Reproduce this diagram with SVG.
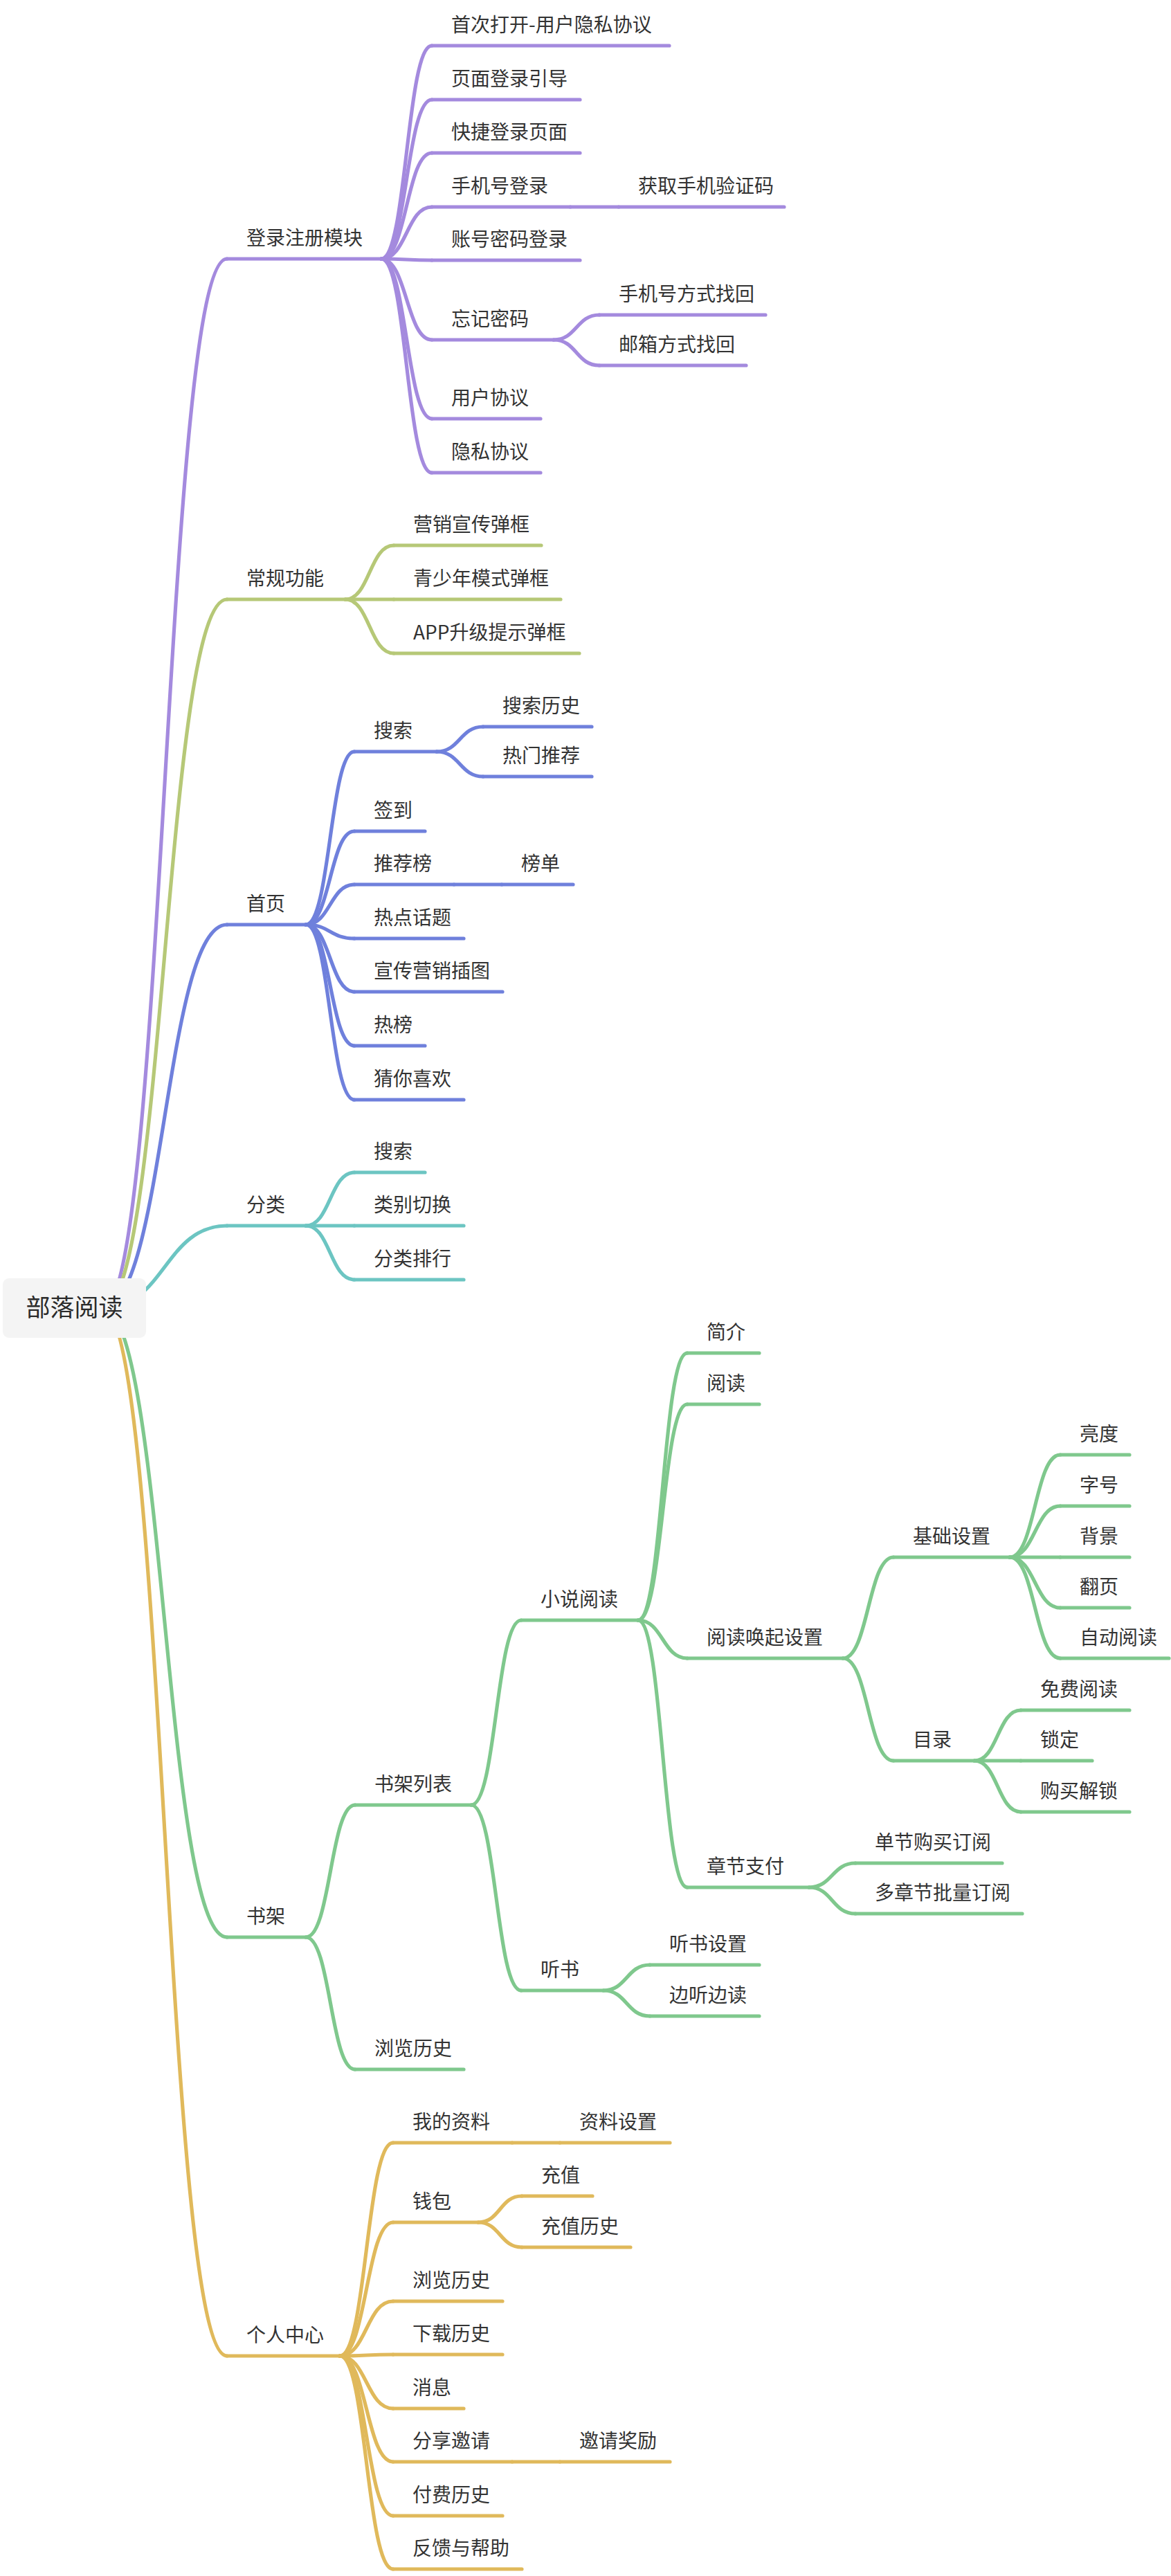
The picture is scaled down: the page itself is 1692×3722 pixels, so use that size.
<svg xmlns="http://www.w3.org/2000/svg" width="1692" height="3722" viewBox="0 0 1692 3722">
<style>
.t{font-family:"Noto Sans CJK SC","Noto Sans",sans-serif;font-size:28px;fill:#333333}
.rt{font-family:"Noto Sans CJK SC","Noto Sans",sans-serif;font-size:35px;fill:#2b2b2b;text-anchor:middle}
.l{fill:none;stroke-width:5.2;stroke-linecap:round;stroke-linejoin:round}
.p{stroke:#a48ade}.y{stroke:#b6c877}.b{stroke:#6f80dc}.c{stroke:#6cc5c2}.g{stroke:#7fc88d}.o{stroke:#e0b95b}
</style>
<rect width="1692" height="3722" fill="#ffffff"/>
<g id="connectors">
<path class="l p" d="M148,1890 C238,1890 238,374 328,374"/>
<path class="l y" d="M148,1890 C238,1890 238,866 328,866"/>
<path class="l b" d="M148,1890 C238,1890 238,1336 328,1336"/>
<path class="l c" d="M148,1890 C238,1890 238,1771 328,1771"/>
<path class="l g" d="M148,1890 C238,1890 238,2799 328,2799"/>
<path class="l o" d="M148,1890 C238,1890 238,3404 328,3404"/>
<path class="l p" d="M551,374 C587.5,374 587.5,66 624,66"/>
<path class="l p" d="M551,374 C587.5,374 587.5,144 624,144"/>
<path class="l p" d="M551,374 C587.5,374 587.5,221 624,221"/>
<path class="l p" d="M551,374 C587.5,374 587.5,299 624,299"/>
<path class="l p" d="M551,374 C587.5,374 587.5,376 624,376"/>
<path class="l p" d="M551,374 C587.5,374 587.5,491 624,491"/>
<path class="l p" d="M551,374 C587.5,374 587.5,605 624,605"/>
<path class="l p" d="M551,374 C587.5,374 587.5,683 624,683"/>
<path class="l p" d="M824,299 L894,299"/>
<path class="l p" d="M800,491 C833,491 833,455 866,455"/>
<path class="l p" d="M800,491 C833,491 833,528 866,528"/>
<path class="l y" d="M499,866 C534,866 534,788 569,788"/>
<path class="l y" d="M499,866 L569,866"/>
<path class="l y" d="M499,866 C534,866 534,944 569,944"/>
<path class="l b" d="M442,1336 C477,1336 477,1086 512,1086"/>
<path class="l b" d="M442,1336 C477,1336 477,1201 512,1201"/>
<path class="l b" d="M442,1336 C477,1336 477,1278 512,1278"/>
<path class="l b" d="M442,1336 C477,1336 477,1356 512,1356"/>
<path class="l b" d="M442,1336 C477,1336 477,1433 512,1433"/>
<path class="l b" d="M442,1336 C477,1336 477,1511 512,1511"/>
<path class="l b" d="M442,1336 C477,1336 477,1589 512,1589"/>
<path class="l b" d="M631,1086 C664.5,1086 664.5,1050 698,1050"/>
<path class="l b" d="M631,1086 C664.5,1086 664.5,1122 698,1122"/>
<path class="l b" d="M656,1278 L725,1278"/>
<path class="l c" d="M442,1771 C477,1771 477,1694 512,1694"/>
<path class="l c" d="M442,1771 L512,1771"/>
<path class="l c" d="M442,1771 C477,1771 477,1849 512,1849"/>
<path class="l g" d="M442,2799 C477.5,2799 477.5,2608 513,2608"/>
<path class="l g" d="M442,2799 C477.5,2799 477.5,2990 513,2990"/>
<path class="l g" d="M681,2608 C717,2608 717,2341 753,2341"/>
<path class="l g" d="M681,2608 C717,2608 717,2876 753,2876"/>
<path class="l g" d="M922,2341 C957.5,2341 957.5,1955 993,1955"/>
<path class="l g" d="M922,2341 C957.5,2341 957.5,2029 993,2029"/>
<path class="l g" d="M922,2341 C957.5,2341 957.5,2396 993,2396"/>
<path class="l g" d="M922,2341 C957.5,2341 957.5,2727 993,2727"/>
<path class="l g" d="M1218,2396 C1254.5,2396 1254.5,2250 1291,2250"/>
<path class="l g" d="M1218,2396 C1254.5,2396 1254.5,2544 1291,2544"/>
<path class="l g" d="M1459,2250 C1495.5,2250 1495.5,2102 1532,2102"/>
<path class="l g" d="M1459,2250 C1495.5,2250 1495.5,2176 1532,2176"/>
<path class="l g" d="M1459,2250 L1532,2250"/>
<path class="l g" d="M1459,2250 C1495.5,2250 1495.5,2323 1532,2323"/>
<path class="l g" d="M1459,2250 C1495.5,2250 1495.5,2396 1532,2396"/>
<path class="l g" d="M1408,2544 C1441.5,2544 1441.5,2471 1475,2471"/>
<path class="l g" d="M1408,2544 L1475,2544"/>
<path class="l g" d="M1408,2544 C1441.5,2544 1441.5,2618 1475,2618"/>
<path class="l g" d="M1169,2727 C1202.5,2727 1202.5,2692 1236,2692"/>
<path class="l g" d="M1169,2727 C1202.5,2727 1202.5,2765 1236,2765"/>
<path class="l g" d="M872,2876 C905.5,2876 905.5,2839 939,2839"/>
<path class="l g" d="M872,2876 C905.5,2876 905.5,2913 939,2913"/>
<path class="l o" d="M491,3404 C529.5,3404 529.5,3096 568,3096"/>
<path class="l o" d="M491,3404 C529.5,3404 529.5,3211 568,3211"/>
<path class="l o" d="M491,3404 C529.5,3404 529.5,3325 568,3325"/>
<path class="l o" d="M491,3404 C529.5,3404 529.5,3402 568,3402"/>
<path class="l o" d="M491,3404 C529.5,3404 529.5,3480 568,3480"/>
<path class="l o" d="M491,3404 C529.5,3404 529.5,3557 568,3557"/>
<path class="l o" d="M491,3404 C529.5,3404 529.5,3635 568,3635"/>
<path class="l o" d="M491,3404 C529.5,3404 529.5,3712 568,3712"/>
<path class="l o" d="M740,3096 L809,3096"/>
<path class="l o" d="M740,3557 L809,3557"/>
<path class="l o" d="M691,3211 C722.5,3211 722.5,3173 754,3173"/>
<path class="l o" d="M691,3211 C722.5,3211 722.5,3247 754,3247"/>
</g>

<g id="root"><rect x="4" y="1847" width="207" height="86" rx="9" fill="#f4f4f4"/><text class="rt" x="107.5" y="1902">部落阅读</text></g>

<g id="n-login"><path class="l p" d="M328,374 H551"/><text class="t" x="356" y="354">登录注册模块</text></g>
<g id="n-first-open"><path class="l p" d="M624,66 H967"/><text class="t" x="652" y="46">首次打开-用户隐私协议</text></g>
<g id="n-login-guide"><path class="l p" d="M624,144 H838"/><text class="t" x="652" y="124">页面登录引导</text></g>
<g id="n-quick-login"><path class="l p" d="M624,221 H838"/><text class="t" x="652" y="201">快捷登录页面</text></g>
<g id="n-phone-login"><path class="l p" d="M624,299 H824"/><text class="t" x="652" y="279">手机号登录</text></g>
<g id="n-get-code"><path class="l p" d="M894,299 H1133"/><text class="t" x="922" y="279">获取手机验证码</text></g>
<g id="n-pwd-login"><path class="l p" d="M624,376 H838"/><text class="t" x="652" y="356">账号密码登录</text></g>
<g id="n-forget"><path class="l p" d="M624,491 H800"/><text class="t" x="652" y="471">忘记密码</text></g>
<g id="n-find-phone"><path class="l p" d="M866,455 H1106"/><text class="t" x="894" y="435">手机号方式找回</text></g>
<g id="n-find-mail"><path class="l p" d="M866,528 H1078"/><text class="t" x="894" y="508">邮箱方式找回</text></g>
<g id="n-user-agree"><path class="l p" d="M624,605 H781"/><text class="t" x="652" y="585">用户协议</text></g>
<g id="n-privacy"><path class="l p" d="M624,683 H781"/><text class="t" x="652" y="663">隐私协议</text></g>

<g id="n-common"><path class="l y" d="M328,866 H499"/><text class="t" x="356" y="846">常规功能</text></g>
<g id="n-promo-pop"><path class="l y" d="M569,788 H782"/><text class="t" x="597" y="768">营销宣传弹框</text></g>
<g id="n-teen-pop"><path class="l y" d="M569,866 H810"/><text class="t" x="597" y="846">青少年模式弹框</text></g>
<g id="n-upgrade-pop"><path class="l y" d="M569,944 H837"/><text class="t" x="597" y="924">APP升级提示弹框</text></g>

<g id="n-home"><path class="l b" d="M328,1336 H442"/><text class="t" x="356" y="1316">首页</text></g>
<g id="n-home-search"><path class="l b" d="M512,1086 H631"/><text class="t" x="540" y="1066">搜索</text></g>
<g id="n-search-history"><path class="l b" d="M698,1050 H855"/><text class="t" x="726" y="1030">搜索历史</text></g>
<g id="n-hot-rec"><path class="l b" d="M698,1122 H855"/><text class="t" x="726" y="1102">热门推荐</text></g>
<g id="n-signin"><path class="l b" d="M512,1201 H614"/><text class="t" x="540" y="1181">签到</text></g>
<g id="n-rec-rank"><path class="l b" d="M512,1278 H656"/><text class="t" x="540" y="1258">推荐榜</text></g>
<g id="n-rank-list"><path class="l b" d="M725,1278 H828"/><text class="t" x="753" y="1258">榜单</text></g>
<g id="n-hot-topic"><path class="l b" d="M512,1356 H670"/><text class="t" x="540" y="1336">热点话题</text></g>
<g id="n-promo-img"><path class="l b" d="M512,1433 H726"/><text class="t" x="540" y="1413">宣传营销插图</text></g>
<g id="n-hot-list"><path class="l b" d="M512,1511 H614"/><text class="t" x="540" y="1491">热榜</text></g>
<g id="n-guess"><path class="l b" d="M512,1589 H670"/><text class="t" x="540" y="1569">猜你喜欢</text></g>

<g id="n-category"><path class="l c" d="M328,1771 H442"/><text class="t" x="356" y="1751">分类</text></g>
<g id="n-cat-search"><path class="l c" d="M512,1694 H614"/><text class="t" x="540" y="1674">搜索</text></g>
<g id="n-cat-switch"><path class="l c" d="M512,1771 H670"/><text class="t" x="540" y="1751">类别切换</text></g>
<g id="n-cat-rank"><path class="l c" d="M512,1849 H670"/><text class="t" x="540" y="1829">分类排行</text></g>

<g id="n-shelf"><path class="l g" d="M328,2799 H442"/><text class="t" x="356" y="2779">书架</text></g>
<g id="n-shelf-list"><path class="l g" d="M513,2608 H681"/><text class="t" x="541" y="2588">书架列表</text></g>
<g id="n-novel"><path class="l g" d="M753,2341 H922"/><text class="t" x="781" y="2321">小说阅读</text></g>
<g id="n-intro"><path class="l g" d="M993,1955 H1097"/><text class="t" x="1021" y="1935">简介</text></g>
<g id="n-read"><path class="l g" d="M993,2029 H1097"/><text class="t" x="1021" y="2009">阅读</text></g>
<g id="n-read-settings"><path class="l g" d="M993,2396 H1218"/><text class="t" x="1021" y="2376">阅读唤起设置</text></g>
<g id="n-basic"><path class="l g" d="M1291,2250 H1459"/><text class="t" x="1319" y="2230">基础设置</text></g>
<g id="n-bright"><path class="l g" d="M1532,2102 H1632"/><text class="t" x="1560" y="2082">亮度</text></g>
<g id="n-fontsize"><path class="l g" d="M1532,2176 H1632"/><text class="t" x="1560" y="2156">字号</text></g>
<g id="n-bg"><path class="l g" d="M1532,2250 H1632"/><text class="t" x="1560" y="2230">背景</text></g>
<g id="n-page"><path class="l g" d="M1532,2323 H1632"/><text class="t" x="1560" y="2303">翻页</text></g>
<g id="n-auto"><path class="l g" d="M1532,2396 H1689"/><text class="t" x="1560" y="2376">自动阅读</text></g>
<g id="n-toc"><path class="l g" d="M1291,2544 H1408"/><text class="t" x="1319" y="2524">目录</text></g>
<g id="n-free"><path class="l g" d="M1475,2471 H1632"/><text class="t" x="1503" y="2451">免费阅读</text></g>
<g id="n-lock"><path class="l g" d="M1475,2544 H1578"/><text class="t" x="1503" y="2524">锁定</text></g>
<g id="n-unlock"><path class="l g" d="M1475,2618 H1632"/><text class="t" x="1503" y="2598">购买解锁</text></g>
<g id="n-pay"><path class="l g" d="M993,2727 H1169"/><text class="t" x="1021" y="2707">章节支付</text></g>
<g id="n-single"><path class="l g" d="M1236,2692 H1448"/><text class="t" x="1264" y="2672">单节购买订阅</text></g>
<g id="n-batch"><path class="l g" d="M1236,2765 H1477"/><text class="t" x="1264" y="2745">多章节批量订阅</text></g>
<g id="n-listen"><path class="l g" d="M753,2876 H872"/><text class="t" x="781" y="2856">听书</text></g>
<g id="n-listen-set"><path class="l g" d="M939,2839 H1097"/><text class="t" x="967" y="2819">听书设置</text></g>
<g id="n-listen-read"><path class="l g" d="M939,2913 H1097"/><text class="t" x="967" y="2893">边听边读</text></g>
<g id="n-shelf-history"><path class="l g" d="M513,2990 H670"/><text class="t" x="541" y="2970">浏览历史</text></g>

<g id="n-me"><path class="l o" d="M328,3404 H491"/><text class="t" x="356" y="3384">个人中心</text></g>
<g id="n-profile"><path class="l o" d="M568,3096 H740"/><text class="t" x="596" y="3076">我的资料</text></g>
<g id="n-profile-set"><path class="l o" d="M809,3096 H968"/><text class="t" x="837" y="3076">资料设置</text></g>
<g id="n-wallet"><path class="l o" d="M568,3211 H691"/><text class="t" x="596" y="3191">钱包</text></g>
<g id="n-recharge"><path class="l o" d="M754,3173 H856"/><text class="t" x="782" y="3153">充值</text></g>
<g id="n-recharge-history"><path class="l o" d="M754,3247 H911"/><text class="t" x="782" y="3227">充值历史</text></g>
<g id="n-browse"><path class="l o" d="M568,3325 H726"/><text class="t" x="596" y="3305">浏览历史</text></g>
<g id="n-download"><path class="l o" d="M568,3402 H726"/><text class="t" x="596" y="3382">下载历史</text></g>
<g id="n-msg"><path class="l o" d="M568,3480 H670"/><text class="t" x="596" y="3460">消息</text></g>
<g id="n-share"><path class="l o" d="M568,3557 H740"/><text class="t" x="596" y="3537">分享邀请</text></g>
<g id="n-reward"><path class="l o" d="M809,3557 H968"/><text class="t" x="837" y="3537">邀请奖励</text></g>
<g id="n-paid"><path class="l o" d="M568,3635 H726"/><text class="t" x="596" y="3615">付费历史</text></g>
<g id="n-help"><path class="l o" d="M568,3712 H754"/><text class="t" x="596" y="3692">反馈与帮助</text></g>
</svg>
